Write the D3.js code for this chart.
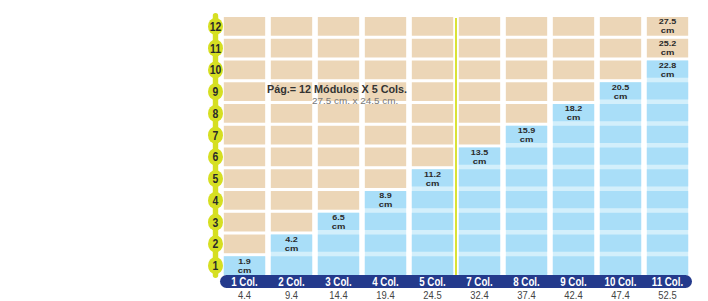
<!DOCTYPE html>
<html>
<head>
<meta charset="utf-8">
<script src="https://cdn.jsdelivr.net/npm/d3@7"></script>
<style>
  body { margin: 0; background: #fff; }
  svg { display: block; }
</style>
</head>
<body>
<svg id="chart"></svg>
<script>
// columns of the page grid
const colLabels = ["1 Col.", "2 Col.", "3 Col.", "4 Col.", "5 Col.", "7 Col.", "8 Col.", "9 Col.", "10 Col.", "11 Col."];
const colWidths = ["4.4", "9.4", "14.4", "19.4", "24.5", "32.4", "37.4", "42.4", "47.4", "52.5"];
// how many modules (rows) each column fills
const colModules = [1, 2, 3, 4, 5, 6, 7, 8, 9, 10];
// module rows and their heights in cm
const rows = [1, 2, 3, 4, 5, 6, 7, 8, 9, 10, 11, 12];
const rowHeights = ["1.9", "4.2", "6.5", "8.9", "11.2", "13.5", "15.9", "18.2", "20.5", "22.8", "25.2", "27.5"];

const width = 708, height = 301;
const svg = d3.select("#chart").attr("width", width).attr("height", height);

const x = d3.scaleBand().domain(colLabels).range([221, 691]).paddingInner(0.12).paddingOuter(0.06);
const y = d3.scaleBand().domain(rows.slice().reverse()).range([15.5, 276.5]).paddingInner(0.14).paddingOuter(0.07);

const beige = "#ecd6b7", blue = "#a9def8", stripe = "#d3effb";
const yellow = "#d6df22", navy = "#243a8c";
const font = "Liberation Sans, Arial, sans-serif";

// squeeze/stretch text horizontally around its anchor
function narrow(sel, k) {
  sel.attr("transform", function () {
    const cx = +d3.select(this).attr("x");
    return `translate(${cx * (1 - k)},0) scale(${k},1)`;
  });
}

// light blue backdrop behind the filled part of each column
const cols = colLabels.map((c, i) => ({ label: c, width: colWidths[i], n: colModules[i] }));
svg.append("g")
  .selectAll("rect")
  .data(cols)
  .join("rect")
  .attr("x", d => x(d.label))
  .attr("y", d => y(d.n))
  .attr("width", x.bandwidth())
  .attr("height", d => y(1) + y.bandwidth() - y(d.n))
  .attr("fill", stripe);

// grid cells
const cells = [];
cols.forEach(c => rows.forEach(r => cells.push({ col: c.label, row: r, filled: r <= c.n })));
svg.append("g")
  .selectAll("rect")
  .data(cells)
  .join("rect")
  .attr("x", d => x(d.col))
  .attr("y", d => y(d.row))
  .attr("width", x.bandwidth())
  .attr("height", d => d.filled ? y.bandwidth() - 1.5 : y.bandwidth())
  .attr("fill", d => d.filled ? blue : beige);
// bottom blue cells reach the band
svg.append("g")
  .selectAll("rect")
  .data(cols)
  .join("rect")
  .attr("x", d => x(d.label))
  .attr("y", y(1) + y.bandwidth() - 3)
  .attr("width", x.bandwidth())
  .attr("height", 3)
  .attr("fill", blue);

// labels on top filled cell (plus the upper modules of the last column)
const labels = cols.map(c => ({ col: c.label, row: c.n }));
labels.push({ col: "11 Col.", row: 11 }, { col: "11 Col.", row: 12 });
const lab = svg.append("g")
  .attr("font-family", font)
  .attr("font-weight", "bold")
  .attr("font-size", 8)
  .attr("fill", "#2a2a2a")
  .attr("text-anchor", "middle");
lab.selectAll("text.v")
  .data(labels)
  .join("text")
  .attr("class", "v")
  .attr("x", d => x(d.col) + x.bandwidth() / 2)
  .attr("y", d => y(d.row) + 7.4)
  .text(d => rowHeights[d.row - 1])
  .call(narrow, 1.12);
lab.selectAll("text.u")
  .data(labels)
  .join("text")
  .attr("class", "u")
  .attr("x", d => x(d.col) + x.bandwidth() / 2)
  .attr("y", d => y(d.row) + 16.3)
  .text("cm")
  .call(narrow, 1.18);

// yellow separator between 5 and 7 columns
const sepX = (x("5 Col.") + x.bandwidth() + x("7 Col.")) / 2;
svg.append("line")
  .attr("x1", sepX).attr("x2", sepX)
  .attr("y1", y(12) + 1).attr("y2", y(1) + y.bandwidth())
  .attr("stroke", yellow).attr("stroke-width", 1.8);

// title
svg.append("text")
  .attr("x", 267).attr("y", 92.5)
  .attr("font-family", font)
  .attr("font-weight", "bold").attr("font-size", 10.8)
  .attr("fill", "#333")
  .text("Pág.= 12 Módulos X 5 Cols.");
svg.append("text")
  .attr("x", 312).attr("y", 104)
  .attr("font-family", font)
  .attr("font-size", 9.9)
  .attr("fill", "#777")
  .text("27.5 cm. x 24.5 cm.");

// yellow module axis
const axisX = 215.5;
svg.append("rect")
  .attr("x", axisX - 2.7).attr("y", 13)
  .attr("width", 5.4).attr("height", 265)
  .attr("rx", 2.7)
  .attr("fill", yellow);
const ax = svg.append("g");
ax.selectAll("ellipse")
  .data(rows)
  .join("ellipse")
  .attr("cx", axisX)
  .attr("cy", d => y(d) + y.bandwidth() / 2)
  .attr("rx", 7.5).attr("ry", 8.5)
  .attr("fill", yellow);
ax.selectAll("text")
  .data(rows)
  .join("text")
  .attr("x", axisX)
  .attr("y", d => y(d) + y.bandwidth() / 2 + 4.6)
  .attr("text-anchor", "middle")
  .attr("font-family", font)
  .attr("font-weight", "bold")
  .attr("font-size", 13)
  .attr("fill", "#2a2a2a")
  .text(d => d)
  .call(narrow, 0.8);

// navy column band
const bandTop = y(1) + y.bandwidth();
svg.append("rect")
  .attr("x", 220).attr("y", bandTop)
  .attr("width", 472).attr("height", 13)
  .attr("rx", 6.5)
  .attr("fill", navy);
svg.append("g")
  .selectAll("text")
  .data(cols)
  .join("text")
  .attr("x", d => x(d.label) + x.bandwidth() / 2)
  .attr("y", bandTop + 10.7)
  .attr("text-anchor", "middle")
  .attr("font-family", font)
  .attr("font-weight", "bold")
  .attr("font-size", 12.5)
  .attr("fill", "#fff")
  .text(d => d.label)
  .call(narrow, 0.78);
svg.append("g")
  .selectAll("text")
  .data(cols)
  .join("text")
  .attr("x", d => x(d.label) + x.bandwidth() / 2)
  .attr("y", 299.5)
  .attr("text-anchor", "middle")
  .attr("font-family", font)
  .attr("font-size", 11.5)
  .attr("fill", "#444")
  .text(d => d.width)
  .call(narrow, 0.82);
</script>
</body>
</html>
